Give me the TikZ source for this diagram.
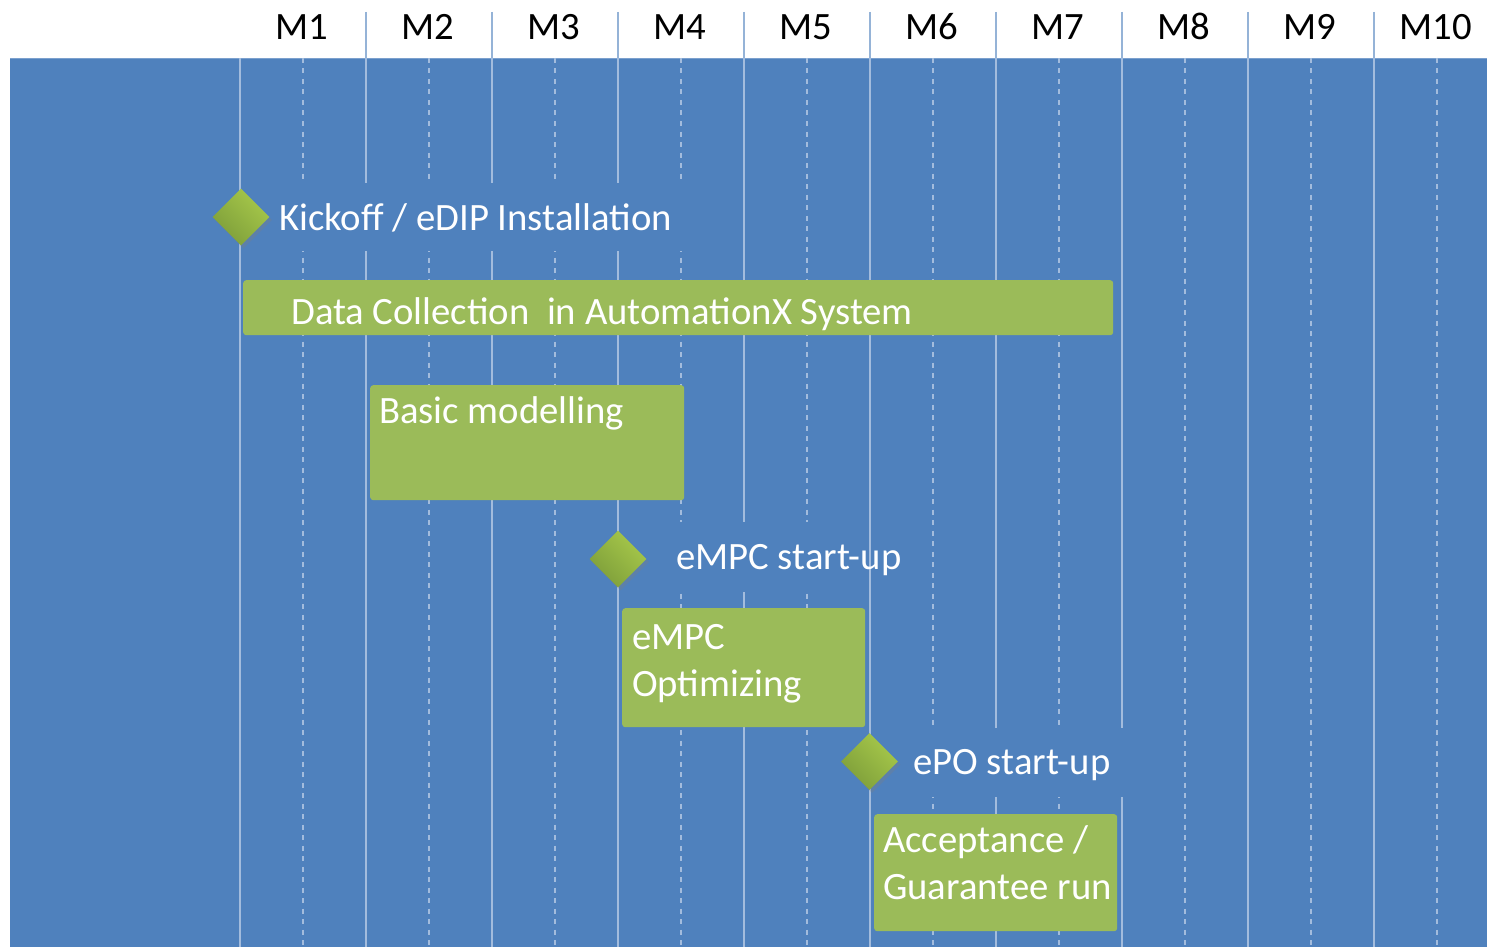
\documentclass[tikz,border=0pt]{standalone}
\usepackage{fontspec}
\setmainfont{Carlito}
\usetikzlibrary{shapes.geometric,shadows}
\definecolor{chartblue}{HTML}{4F81BD}
\definecolor{taskgreen}{HTML}{9BBB59}
\definecolor{msLight}{HTML}{A6C84A}
\definecolor{msDark}{HTML}{7E9E3A}
\definecolor{gridline}{HTML}{A3BCDD}
\definecolor{headsep}{HTML}{95B3D7}
\begin{document}
\begin{tikzpicture}[x=1pt,y=-1pt,
  every node/.style={font=\fontsize{38.7}{47}\selectfont},
  monthlabel/.style={anchor=base, text=black, inner sep=0pt},
  solidgrid/.style={draw=gridline, line width=1.5pt},
  dashgrid/.style={draw=gridline, line width=1.5pt, dash pattern=on 5pt off 5.5pt},
  headtick/.style={draw=headsep, line width=1.5pt},
  labelmask/.style={fill=chartblue, inner sep=0pt, rectangle},
  taskbox/.style={fill=taskgreen, rounded corners=3pt, inner sep=0pt, anchor=north west, rectangle},
  tasktext/.style={text=white, inner sep=0pt, anchor=base west, align=left},
  milestone/.style={diamond, aspect=1, inner sep=0pt, minimum width=57pt, minimum height=57pt,
    top color=msLight, bottom color=msDark, shading angle=-45,
    drop shadow={shadow xshift=2.5pt, shadow yshift=-3pt, opacity=0.3}},
]
\useasboundingbox (0,0) rectangle (1487,947);
\fill[white] (0,0) rectangle (1487,947);

% chart area
\fill[chartblue] (10,58) rectangle (1487,947);
\draw[white!25!chartblue, line width=1pt] (10,58.5) -- (1487,58.5);

% month grid: solid boundaries, dashed mid-month lines
\foreach \x in {240,366,...,1374} \draw[solidgrid] (\x,58) -- (\x,947);
\foreach \x in {303,429,...,1437} \draw[dashgrid] (\x,58) -- (\x,947);
\foreach \x in {366,492,...,1374} \draw[headtick] (\x,12) -- (\x,58);

% month headers
\foreach \i [evaluate=\i as \cx using 302+126*(\i-1)] in {1,...,10}
  \node[monthlabel] (m\i) at (\cx,40) {M\i};

% backgrounds behind the milestone captions
\node[labelmask, minimum width=430pt, minimum height=68pt] (kickmask) at (485,217) {};
\node[labelmask, minimum width=214pt, minimum height=70pt] (empcmask) at (755,557) {};
\node[labelmask, minimum width=248pt, minimum height=69pt] (epomask) at (1004,762.5) {};

% task bars
\node[taskbox, minimum width=870pt, minimum height=55pt] (data) at (243,280) {};
\node[taskbox, minimum width=314pt, minimum height=115pt] (basic) at (370,385) {};
\node[taskbox, minimum width=243pt, minimum height=119pt] (optim) at (622,608) {};
\node[taskbox, minimum width=243pt, minimum height=117pt] (accept) at (874,814) {};

% milestones
\node[milestone] (kick) at (241,217) {};
\node[milestone] (empc) at (618,559) {};
\node[milestone] (epo) at (869.5,761.5) {};

% captions (two-line captions are placed by their last baseline)
\node[tasktext] (kicktxt) at (279,230) {Kickoff / eDIP Installation};
\node[tasktext] (datatxt) at (291,324) {Data Collection\ \ in AutomationX System};
\node[tasktext] (basictxt) at (379,423) {Basic modelling};
\node[tasktext] (empctxt) at (676,569) {eMPC start-up};
\node[tasktext] (optimtxt) at (632,696) {eMPC\\Optimizing};
\node[tasktext] (epotxt) at (913,774) {ePO start-up};
\node[tasktext] (accepttxt) at (883,899) {Acceptance /\\Guarantee run};
\end{tikzpicture}
\end{document}
